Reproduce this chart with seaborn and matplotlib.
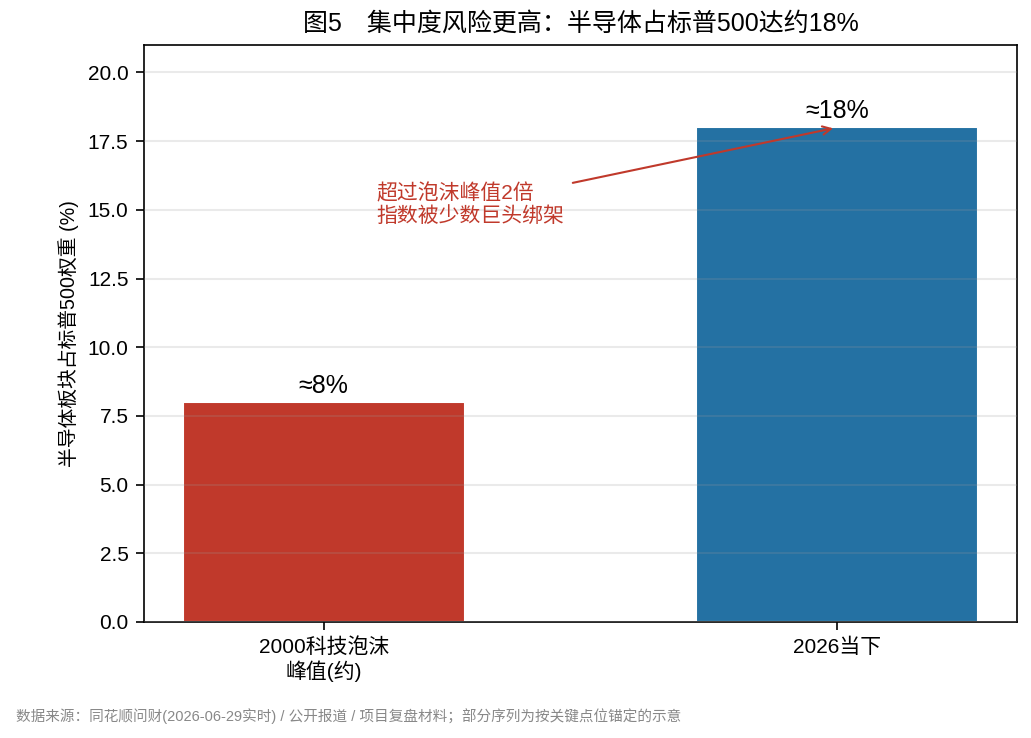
import matplotlib
matplotlib.use('Agg')
import matplotlib.pyplot as plt
import seaborn as sns
import pandas as pd

# data
categories = ['2000科技泡沫\n峰值(约)', '2026当下']
weights = [8, 18]
bar_labels = ['≈8%', '≈18%']
bar_colors = ['#c0392b', '#2471a3']

sns.set_style('ticks')
plt.rcParams['font.family'] = ['Liberation Sans', 'Noto Sans CJK SC', 'DejaVu Sans']
plt.rcParams['axes.unicode_minus'] = False
plt.rcParams['text.color'] = 'black'
plt.rcParams['axes.labelcolor'] = 'black'
plt.rcParams['xtick.color'] = 'black'
plt.rcParams['ytick.color'] = 'black'

df = pd.DataFrame({'cat': categories, 'val': weights})

fig = plt.figure(figsize=(1031 / 150, 738 / 150), dpi=150)
ax = fig.add_axes([0.1397, 0.1572, 0.8467, 0.7818])

sns.barplot(data=df, x='cat', y='val', hue='cat', palette=bar_colors,
            width=0.55, legend=False, ax=ax, saturation=1)

for i, (v, lab) in enumerate(zip(weights, bar_labels)):
    ax.text(i, v + 0.15, lab, ha='center', va='bottom', fontsize=12)

ax.annotate('超过泡沫峰值2倍\n指数被少数巨头绑架', xy=(1.0, 18), xytext=(0.285, 15.2),
            ha='center', va='center', multialignment='left', fontsize=10,
            color='#c0392b', linespacing=1.15,
            arrowprops=dict(arrowstyle='->', color='#c0392b', lw=1.0))

ax.set_ylim(0, 21)
ax.set_xlim(-0.35, 1.35)
ax.set_xlabel('')
ax.set_ylabel('半导体板块占标普500权重 (%)', fontsize=9.5)
ax.set_title('图5\u3000集中度风险更高：半导体占标普500达约18%', fontsize=12, pad=7)
ax.tick_params(labelsize=10, colors='black', length=4)
ax.yaxis.grid(True, color='#999999', alpha=0.2, lw=1)
ax.set_axisbelow(False)
for s in ax.spines.values():
    s.set_visible(True)
    s.set_color('black')

fig.text(0.0155, 0.03, '数据来源：同花顺问财(2026-06-29实时) / 公开报道 / 项目复盘材料；部分序列为按关键点位锚定的示意',
         fontsize=7, color='#888888', ha='left', va='center')

fig.savefig('out.png', dpi=150)
